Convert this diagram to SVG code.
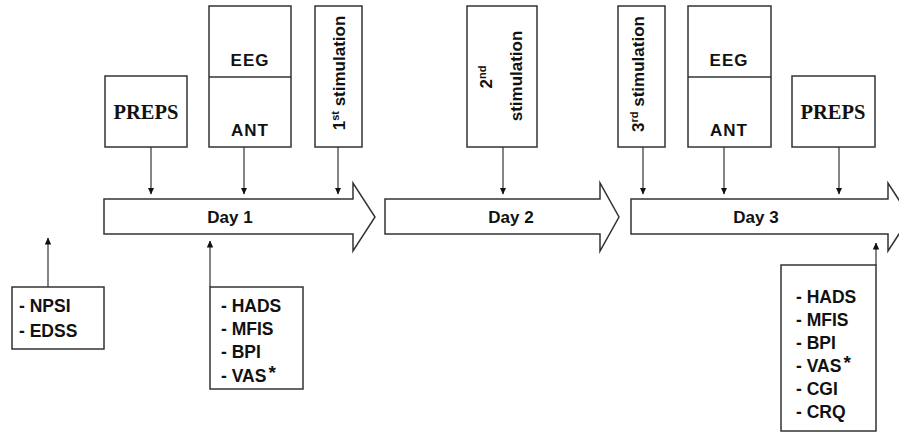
<svg xmlns="http://www.w3.org/2000/svg" width="899" height="433" viewBox="0 0 899 433">
<style>
.box{fill:#fff;stroke:#333;stroke-width:1.5}
.day{fill:#fff;stroke:#333;stroke-width:1.5;stroke-linejoin:miter}
.con{stroke:#333;stroke-width:1.2;fill:none}
.serif{font-family:"Liberation Serif","Times New Roman",serif;font-weight:bold;font-size:20.5px;fill:#111}
.sans{font-family:"Liberation Sans",Arial,sans-serif;font-weight:bold;font-size:17px;fill:#111}
.lst{font-family:"Liberation Sans",Arial,sans-serif;font-weight:bold;font-size:17.5px;fill:#111}
.sup{font-size:11px}
.ast{font-size:19px}
</style>
<defs>
<marker id="ah" markerWidth="7" markerHeight="8" refX="6.5" refY="4" orient="auto" markerUnits="userSpaceOnUse">
<path d="M0,0.8 L7,4 L0,7.2 Z" fill="#111"/>
</marker>
</defs>
<rect width="899" height="433" fill="#fff"/>

<g id="day1"><polygon class="day" points="104,199 353,199 353,183 375,217 353,251 353,234 104,234"/><text class="sans" x="230" y="223" text-anchor="middle">Day 1</text></g>
<g id="day2"><polygon class="day" points="385,199 600,199 600,183 619,217 600,251 600,234 385,234"/><text class="sans" x="511" y="223" text-anchor="middle">Day 2</text></g>
<g id="day3"><polygon class="day" points="631,199 888,199 888,183 910,217 888,251 888,234 631,234"/><text class="sans" x="756" y="223" text-anchor="middle">Day 3</text></g>

<g id="preps1"><rect class="box" x="105" y="76" width="82" height="71"/><text class="serif" x="146" y="119" text-anchor="middle">PREPS</text></g>
<g id="eegant1"><rect class="box" x="209" y="6" width="82" height="141"/><line class="box" x1="209" y1="77" x2="291" y2="77"/><text class="sans" x="250" y="66" text-anchor="middle" letter-spacing="1">EEG</text><text class="sans" x="250" y="136" text-anchor="middle" letter-spacing="1">ANT</text></g>
<g id="stim1"><rect class="box" x="315" y="6" width="47" height="141"/><text class="sans" transform="translate(345,73) rotate(-90)" text-anchor="middle">1<tspan class="sup" dy="-6">st</tspan><tspan dy="6"> stimulation</tspan></text></g>

<g id="stim2"><rect class="box" x="467" y="6" width="70" height="141"/><text class="sans" transform="translate(492,77) rotate(-90)" text-anchor="middle">2<tspan class="sup" dy="-6">nd</tspan></text><text class="sans" transform="translate(522,76) rotate(-90)" text-anchor="middle">stimulation</text></g>

<g id="stim3"><rect class="box" x="618" y="6" width="47" height="141"/><text class="sans" transform="translate(644,74) rotate(-90)" text-anchor="middle">3<tspan class="sup" dy="-6">rd</tspan><tspan dy="6"> stimulation</tspan></text></g>
<g id="eegant2"><rect class="box" x="688" y="6" width="83" height="141"/><line class="box" x1="688" y1="77" x2="771" y2="77"/><text class="sans" x="729" y="66" text-anchor="middle" letter-spacing="1">EEG</text><text class="sans" x="729" y="136" text-anchor="middle" letter-spacing="1">ANT</text></g>
<g id="preps2"><rect class="box" x="792" y="76" width="83" height="71"/><text class="serif" x="833" y="119" text-anchor="middle">PREPS</text></g>

<g id="baseline"><rect class="box" x="12" y="287" width="92" height="62"/><text class="lst" x="19" y="312">- NPSI</text><text class="lst" x="19" y="337">- EDSS</text></g>
<g id="day1measures"><rect class="box" x="210" y="287" width="93" height="102"/><text class="lst" x="221" y="312">- HADS</text><text class="lst" x="221" y="335">- MFIS</text><text class="lst" x="221" y="358">- BPI</text><text class="lst" x="221" y="382">- VAS<tspan class="ast" dx="2" dy="-3">*</tspan></text></g>
<g id="day3measures"><rect class="box" x="781" y="265" width="95" height="166"/><text class="lst" x="796" y="303">- HADS</text><text class="lst" x="796" y="326">- MFIS</text><text class="lst" x="796" y="349">- BPI</text><text class="lst" x="796" y="372">- VAS<tspan class="ast" dx="2" dy="-3">*</tspan></text><text class="lst" x="796" y="395">- CGI</text><text class="lst" x="796" y="418">- CRQ</text></g>

<g id="connectors">
<line class="con" x1="151" y1="147" x2="151" y2="194" marker-end="url(#ah)"/>
<line class="con" x1="244" y1="147" x2="244" y2="194" marker-end="url(#ah)"/>
<line class="con" x1="338" y1="147" x2="338" y2="194" marker-end="url(#ah)"/>
<line class="con" x1="503" y1="147" x2="503" y2="194" marker-end="url(#ah)"/>
<line class="con" x1="643" y1="147" x2="643" y2="194" marker-end="url(#ah)"/>
<line class="con" x1="724" y1="147" x2="724" y2="194" marker-end="url(#ah)"/>
<line class="con" x1="839" y1="147" x2="839" y2="194" marker-end="url(#ah)"/>
<line class="con" x1="48" y1="287" x2="48" y2="238" marker-end="url(#ah)"/>
<line class="con" x1="210" y1="287" x2="210" y2="241" marker-end="url(#ah)"/>
<line class="con" x1="876" y1="265" x2="876" y2="243" marker-end="url(#ah)"/>
</g>
</svg>
